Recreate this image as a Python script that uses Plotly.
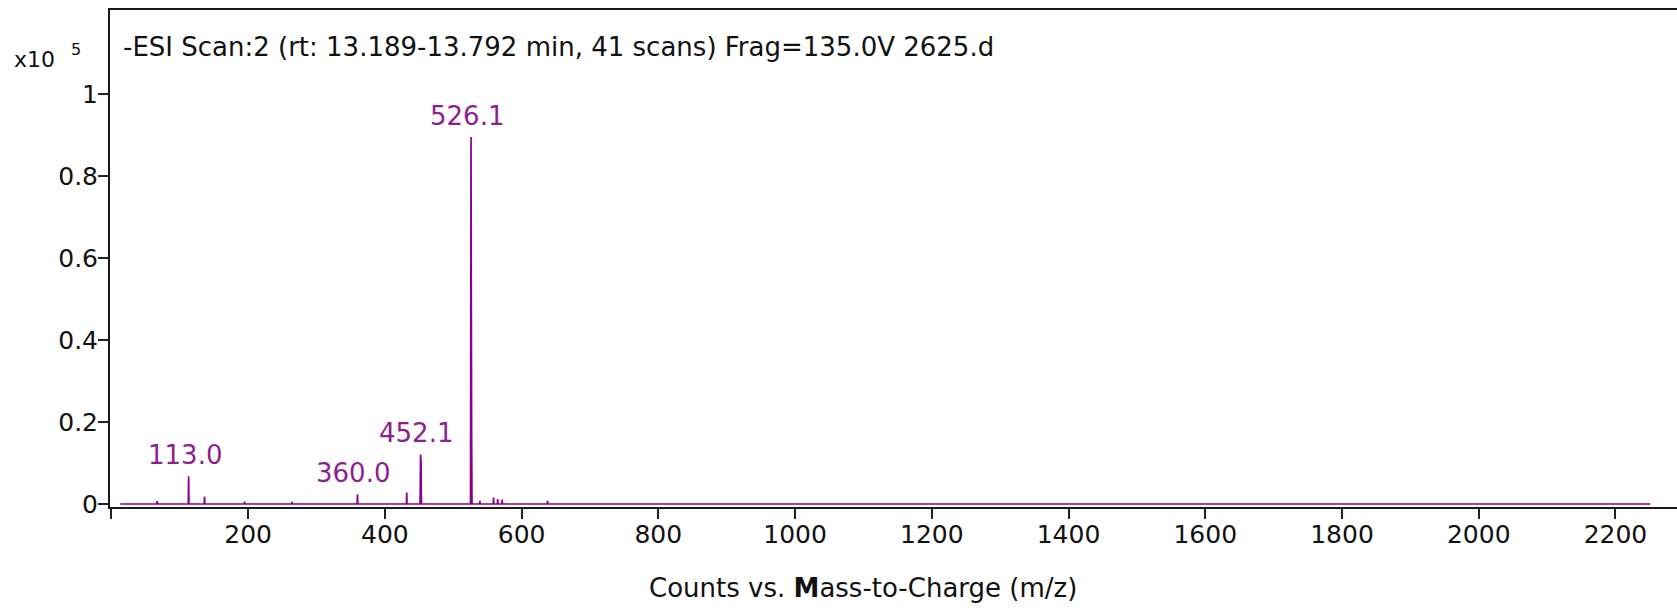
import plotly.graph_objects as go

# profile of the scan, m/z vs counts (x10^5)
mz = [13, 66, 67, 68, 112.5, 113.0, 113.5, 135.8, 136.3, 136.8, 194.3, 194.8, 195.3,
      263.5, 264, 264.5, 359.5, 360.0, 360.5, 431.5, 432, 432.5,
      451.5, 452.0, 452.3, 453.0, 453.5,
      525.3, 525.8, 526.1, 526.5, 527.0, 527.5,
      538.5, 539, 539.5, 558.5, 559, 559.5, 564.5, 565, 565.5, 571.1, 571.6, 572.1,
      637.5, 638, 638.5, 2251]
counts = [0, 0, 0.007, 0, 0, 0.068, 0, 0, 0.018, 0, 0, 0.006, 0,
          0, 0.005, 0, 0, 0.0237, 0, 0, 0.028, 0,
          0, 0.115, 0.121, 0.10, 0,
          0, 0.6, 0.896, 0.5, 0.15, 0,
          0, 0.008, 0, 0, 0.016, 0, 0, 0.012, 0, 0, 0.010, 0,
          0, 0.008, 0, 0]

label_mz = [113.0, 360.0, 452.1, 526.1]
label_counts = [0.068, 0.0237, 0.121, 0.896]

x_ticks = [0, 200, 400, 600, 800, 1000, 1200, 1400, 1600, 1800, 2000, 2200]
x_ticktext = [""] + [str(v) for v in x_ticks[1:]]
y_ticks = [0, 0.2, 0.4, 0.6, 0.8, 1]
y_ticktext = ["0", "0.2", "0.4", "0.6", "0.8", "1"]

FONT = "DejaVu Sans"
PURPLE = "#8b008b"

fig = go.Figure()
fig.add_trace(go.Scatter(x=mz, y=counts, mode="lines",
                         line=dict(color=PURPLE, width=1.7), hoverinfo="x+y"))

for m, c in zip(label_mz, label_counts):
    fig.add_annotation(x=m, y=c, text=f"{m:.1f}", showarrow=False,
                       xanchor="center", yanchor="bottom", xshift=-4, yshift=4,
                       font=dict(family=FONT, size=26, color="#8e1f8e"))

fig.add_annotation(xref="paper", yref="paper", x=0.007, y=0.9256,
                   text="-ESI Scan:2 (rt: 13.189-13.792 min, 41 scans) Frag=135.0V 2625.d",
                   showarrow=False, xanchor="left", yanchor="middle",
                   font=dict(family=FONT, size=26, color="#111"))
fig.add_annotation(xref="paper", yref="paper", x=-0.0479, y=0.9014,
                   text="x10", showarrow=False, xanchor="center", yanchor="middle",
                   font=dict(family=FONT, size=22, color="#111"))
fig.add_annotation(xref="paper", yref="paper", x=-0.0217, y=0.9215,
                   text="5", showarrow=False, xanchor="center", yanchor="middle",
                   font=dict(family=FONT, size=16, color="#111"))
fig.add_annotation(xref="paper", yref="paper", x=0.4808, y=-0.163,
                   text="Counts vs. <b>M</b>ass-to-Charge (m/z)", showarrow=False,
                   xanchor="center", yanchor="middle",
                   font=dict(family=FONT, size=26, color="#111"))

fig.update_xaxes(range=[-2, 2290], tickvals=x_ticks, ticktext=x_ticktext,
                 showline=True, linecolor="#1a1a1a", linewidth=2, mirror=True,
                 ticks="outside", ticklen=10, tickwidth=1.5, tickcolor="#222",
                 ticklabelstandoff=-6,
                 showgrid=False, zeroline=False,
                 tickfont=dict(family=FONT, size=25, color="#111"))
fig.update_yaxes(range=[-0.00732, 1.2058], tickvals=y_ticks, ticktext=y_ticktext,
                 showline=True, linecolor="#1a1a1a", linewidth=2, mirror=False,
                 ticks="outside", ticklen=10, tickwidth=1.5, tickcolor="#222",
                 ticklabelstandoff=-5,
                 showgrid=False, zeroline=False,
                 tickfont=dict(family=FONT, size=25, color="#111"))

fig.update_layout(width=1677, height=610, showlegend=False,
                  margin=dict(l=110, r=0, t=10, b=103),
                  plot_bgcolor="white", paper_bgcolor="white")

# the page body has a default 8px margin; drop it so the figure sits at the corner
fig.write_html("out.html", config={"displayModeBar": False},
               post_script="document.body.style.margin='0';")
